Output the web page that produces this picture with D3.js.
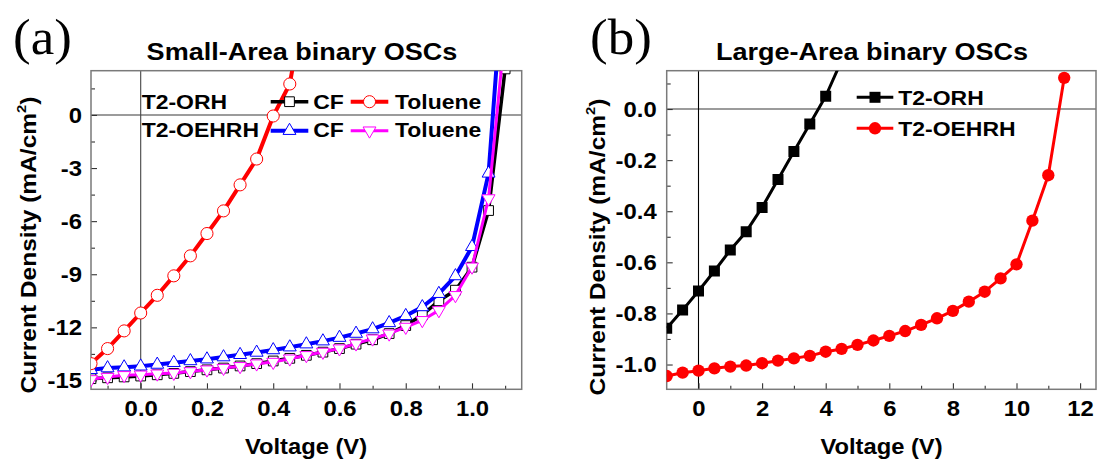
<!DOCTYPE html>
<html>
<head>
<meta charset="utf-8">
<script src="https://cdn.jsdelivr.net/npm/d3@7"></script>
<style>
  body { margin: 0; background: #fff; }
  svg { display: block; }
</style>
</head>
<body>
<svg id="fig" width="1098" height="461"></svg>
<script>
// ---------- Panel (a): small-area devices ----------
const voltA = [-0.15, -0.10, -0.05, 0.00, 0.05, 0.10, 0.15, 0.20, 0.25, 0.30, 0.35, 0.40, 0.45,
               0.50, 0.55, 0.60, 0.65, 0.70, 0.75, 0.80, 0.85, 0.90, 0.95, 1.00, 1.05, 1.10];
const orhCF = [-14.90, -14.85, -14.80, -14.75, -14.68, -14.60, -14.50, -14.40, -14.30, -14.18, -14.05, -13.90, -13.75,
               -13.58, -13.40, -13.20, -12.95, -12.70, -12.35, -11.90, -11.30, -10.50, -9.90, -8.60, -5.40, 2.60];
const oehrhCF = [-14.40, -14.30, -14.25, -14.20, -14.10, -14.00, -13.90, -13.80, -13.68, -13.55, -13.42, -13.28, -13.12,
                 -12.95, -12.78, -12.58, -12.35, -12.10, -11.75, -11.35, -10.85, -10.10, -9.10, -7.45, -3.30, 9.30];
const oehrhTol = [-14.94, -14.81, -14.71, -14.68, -14.62, -14.58, -14.49, -14.39, -14.30, -14.20, -14.05, -13.96, -13.77,
                  -13.58, -13.39, -13.20, -12.92, -12.64, -12.36, -11.98, -11.60, -11.04, -10.19, -8.58, -4.72, 4.78];
const voltAOrhTol = [-0.15, -0.10, -0.05, 0.00, 0.05, 0.10, 0.15, 0.20, 0.25, 0.30, 0.35, 0.40, 0.45, 0.50];
const orhTol = [-14.05, -13.20, -12.20, -11.19, -10.19, -9.09, -7.96, -6.70, -5.42, -3.95, -2.49, -0.06, 1.75, 7.00];

const ticksAX = [0, 0.2, 0.4, 0.6, 0.8, 1.0];
const minorAX = [-0.1, 0.1, 0.3, 0.5, 0.7, 0.9, 1.1];
const ticksAY = [0, -3, -6, -9, -12, -15];
const minorAY = [1.5, -1.5, -4.5, -7.5, -10.5, -13.5];

// ---------- Panel (b): large-area devices ----------
const voltB = [-1.0, -0.5, 0.0, 0.5, 1.0, 1.5, 2.0, 2.5, 3.0, 3.5, 4.0, 4.5, 5.0, 5.5, 6.0, 6.5,
               7.0, 7.5, 8.0, 8.5, 9.0, 9.5, 10.0, 10.5, 11.0, 11.5];
const orhLarge = [-0.858, -0.787, -0.712, -0.634, -0.552, -0.480, -0.385, -0.276, -0.166, -0.059, 0.050, 0.190];
const oehrhLarge = [-1.045, -1.032, -1.024, -1.015, -1.008, -1.004, -0.995, -0.985, -0.976, -0.966, -0.950, -0.939,
                    -0.923, -0.906, -0.888, -0.869, -0.845, -0.819, -0.790, -0.754, -0.715, -0.663, -0.608,
                    -0.437, -0.259, 0.122];

const ticksBX = [0, 2, 4, 6, 8, 10, 12];
const minorBX = [1, 3, 5, 7, 9, 11];
const ticksBY = [0, -0.2, -0.4, -0.6, -0.8, -1.0];
const minorBY = [0.1, -0.1, -0.3, -0.5, -0.7, -0.9];

// ---------- drawing ----------
const svg = d3.select('#fig');
const FONT = '"Liberation Sans", Arial, sans-serif';
const SERIF = '"Liberation Serif", "Times New Roman", serif';
const FRAME = '#7a7a7a';

function label(parent, x, y, str, size, anchor, sx, family) {
  return parent.append('text')
    .attr('transform', `translate(${x},${y}) scale(${sx},1)`)
    .attr('text-anchor', anchor)
    .attr('font-family', family || FONT)
    .attr('font-weight', family ? 'normal' : 'bold')
    .attr('font-size', size)
    .attr('fill', '#000')
    .text(str);
}

function yTitle(parent, x, y) {
  const t = parent.append('text')
    .attr('transform', `translate(${x},${y}) rotate(-90) scale(1.09,1)`)
    .attr('text-anchor', 'middle')
    .attr('font-family', FONT).attr('font-weight', 'bold')
    .attr('font-size', 22.5).attr('fill', '#000');
  t.append('tspan').text('Current Density (mA/cm');
  t.append('tspan').attr('font-size', 13.5).attr('dy', -10).text('2');
  t.append('tspan').attr('dy', 10).text(')');
}

function makePanel(cfg) {
  const g = svg.append('g');
  const x = d3.scaleLinear().domain(cfg.xDomain).range([cfg.left, cfg.right]);
  const y = d3.scaleLinear().domain(cfg.yDomain).range([cfg.bottom, cfg.top]);

  const clipId = 'clip-' + cfg.id;
  svg.append('defs').append('clipPath').attr('id', clipId)
    .append('rect').attr('x', cfg.left).attr('y', cfg.top)
    .attr('width', cfg.right - cfg.left).attr('height', cfg.bottom - cfg.top);

  // zero reference lines
  g.append('line').attr('x1', cfg.left).attr('x2', cfg.right)
    .attr('y1', y(0)).attr('y2', y(0)).attr('stroke', '#7a7a7a').attr('stroke-width', 1.4);
  g.append('line').attr('x1', x(0)).attr('x2', x(0))
    .attr('y1', cfg.top).attr('y2', cfg.bottom).attr('stroke', cfg.vColor).attr('stroke-width', 1.1);

  // axes (inward ticks)
  const xAxis = g.append('g').attr('transform', `translate(0,${cfg.bottom})`)
    .call(d3.axisBottom(x).tickValues(cfg.xTicks).tickFormat(cfg.xFormat)
      .tickSizeInner(-6).tickSizeOuter(0).tickPadding(11.4));
  const xMinor = g.append('g').attr('transform', `translate(0,${cfg.bottom})`)
    .call(d3.axisBottom(x).tickValues(cfg.xMinor).tickFormat('')
      .tickSizeInner(-3.5).tickSizeOuter(0));
  const yAxis = g.append('g').attr('transform', `translate(${cfg.left},0)`)
    .call(d3.axisLeft(y).tickValues(cfg.yTicks).tickFormat(cfg.yFormat)
      .tickSizeInner(-6).tickSizeOuter(0).tickPadding(cfg.yPad));
  const yMinor = g.append('g').attr('transform', `translate(${cfg.left},0)`)
    .call(d3.axisLeft(y).tickValues(cfg.yMinor).tickFormat('')
      .tickSizeInner(-4).tickSizeOuter(0));
  [xAxis, xMinor, yAxis, yMinor].forEach(a => {
    a.select('.domain').remove();
    a.selectAll('line').attr('stroke', '#333').attr('stroke-width', 1.1);
  });
  [xAxis, yAxis].forEach(a => {
    a.attr('font-family', FONT).attr('font-weight', 'bold').attr('font-size', 21.5);
  });
  xAxis.selectAll('text').attr('fill', '#000')
    .attr('transform', 'scale(1.11,1)');
  yAxis.selectAll('text').attr('fill', '#000').attr('dy', '0.34em')
    .attr('transform', 'scale(1.11,1)');

  // frame
  g.append('rect').attr('x', cfg.left).attr('y', cfg.top)
    .attr('width', cfg.right - cfg.left).attr('height', cfg.bottom - cfg.top)
    .attr('fill', 'none').attr('stroke', FRAME).attr('stroke-width', 1.5);

  const plot = g.append('g').attr('clip-path', `url(#${clipId})`);
  return { g, plot, x, y };
}

function drawSeries(p, V, J, s) {
  const pts = V.map((v, i) => [v, J[i]]).filter(d => d[1] !== undefined);
  p.plot.append('path').datum(pts)
    .attr('d', d3.line().x(d => p.x(d[0])).y(d => p.y(d[1])))
    .attr('fill', 'none').attr('stroke', s.color).attr('stroke-width', s.lw)
    .attr('stroke-linejoin', 'round');
  p.plot.selectAll(null).data(pts).enter().append('path')
    .attr('transform', d => `translate(${p.x(d[0])},${p.y(d[1])})${s.flip ? ' rotate(180)' : ''}`)
    .attr('d', d3.symbol().type(s.symbol).size(s.size))
    .attr('fill', s.fill).attr('stroke', s.color).attr('stroke-width', s.sw);
}

function legendKey(parent, x1, x2, y, s) {
  parent.append('line').attr('x1', x1).attr('x2', x2).attr('y1', y).attr('y2', y)
    .attr('stroke', s.color).attr('stroke-width', s.lw);
  parent.append('path')
    .attr('transform', `translate(${(x1 + x2) / 2},${y})${s.flip ? ' rotate(180)' : ''}`)
    .attr('d', d3.symbol().type(s.symbol).size(s.size))
    .attr('fill', s.fill).attr('stroke', s.color).attr('stroke-width', s.sw);
}

// styles for panel (a)
const stOrhCF = { color: '#000000', lw: 3.5, symbol: d3.symbolSquare, size: 95, fill: '#fff', sw: 1 };
const stOrhTol = { color: '#ff0000', lw: 4, symbol: d3.symbolCircle, size: 115, fill: '#fff', sw: 1 };
const stOehCF = { color: '#0000ff', lw: 4, symbol: d3.symbolTriangle, size: 72, fill: '#fff', sw: 1 };
const stOehTol = { color: '#ff00ff', lw: 3, symbol: d3.symbolTriangle, size: 72, fill: '#fff', sw: 1, flip: true };

const pa = makePanel({
  id: 'a', left: 91, right: 521.7, top: 70.7, bottom: 389.3,
  xDomain: [-0.15, 1.15], yDomain: [-15.5, 2.5],
  xTicks: ticksAX, xMinor: minorAX, yTicks: ticksAY, yMinor: minorAY,
  xFormat: d3.format('.1f'), yFormat: d3.format('d'),
  yPad: 8.1, vColor: '#444'
});
pa.g.selectAll('text').each(function () { this.textContent = this.textContent.replace('−', '-'); });

drawSeries(pa, voltA, orhCF, stOrhCF);
drawSeries(pa, voltA, oehrhCF, stOehCF);
drawSeries(pa, voltA, oehrhTol, stOehTol);
drawSeries(pa, voltAOrhTol, orhTol, stOrhTol);

// legend (a)
const lga = svg.append('g');
label(lga, 141.7, 109, 'T2-ORH', 20.5, 'start', 1.12);
label(lga, 141.7, 137.3, 'T2-OEHRH', 20.5, 'start', 1.12);
legendKey(lga, 270.7, 308.3, 101.7, stOrhCF);
legendKey(lga, 350.7, 388.3, 101.7, stOrhTol);
legendKey(lga, 270.7, 308.3, 130.7, stOehCF);
legendKey(lga, 350.7, 388.3, 130.7, stOehTol);
label(lga, 313.3, 109, 'CF', 20.5, 'start', 1.12);
label(lga, 395, 109, 'Toluene', 20.5, 'start', 1.12);
label(lga, 313.3, 137.3, 'CF', 20.5, 'start', 1.12);
label(lga, 395, 137.3, 'Toluene', 20.5, 'start', 1.12);

// titles (a)
label(svg, 13, 54, '(a)', 50, 'start', 1.06, SERIF);
label(svg, 302, 59.5, 'Small-Area binary OSCs', 23.5, 'middle', 1.15);
label(svg, 306, 454, 'Voltage (V)', 22, 'middle', 1.08);
yTitle(svg, 36, 245);

// styles for panel (b)
const stLargeOrh = { color: '#000000', lw: 3, symbol: d3.symbolSquare, size: 121, fill: '#000', sw: 0 };
const stLargeOeh = { color: '#ff0000', lw: 3, symbol: d3.symbolCircle, size: 120, fill: '#ff0000', sw: 0 };

const pb = makePanel({
  id: 'b', left: 666.7, right: 1096, top: 70.7, bottom: 389.3,
  xDomain: [-1, 12.5], yDomain: [-1.097, 0.15],
  xTicks: ticksBX, xMinor: minorBX, yTicks: ticksBY, yMinor: minorBY,
  xFormat: d3.format('d'), yFormat: d3.format('.1f'),
  yPad: 9, vColor: '#000'
});
pb.g.selectAll('text').each(function () { this.textContent = this.textContent.replace('−', '-'); });

drawSeries(pb, voltB, orhLarge, stLargeOrh);
drawSeries(pb, voltB, oehrhLarge, stLargeOeh);

// legend (b)
const lgb = svg.append('g');
legendKey(lgb, 856.7, 893.3, 97.3, stLargeOrh);
legendKey(lgb, 856.7, 893.3, 128.3, stLargeOeh);
label(lgb, 898.3, 105, 'T2-ORH', 20.5, 'start', 1.12);
label(lgb, 898.3, 136, 'T2-OEHRH', 20.5, 'start', 1.12);

// titles (b)
label(svg, 590, 54, '(b)', 50, 'start', 1.06, SERIF);
label(svg, 872, 59.5, 'Large-Area binary OSCs', 23.5, 'middle', 1.15);
label(svg, 881.5, 454, 'Voltage (V)', 22, 'middle', 1.08);
yTitle(svg, 605, 247);
</script>
</body>
</html>
